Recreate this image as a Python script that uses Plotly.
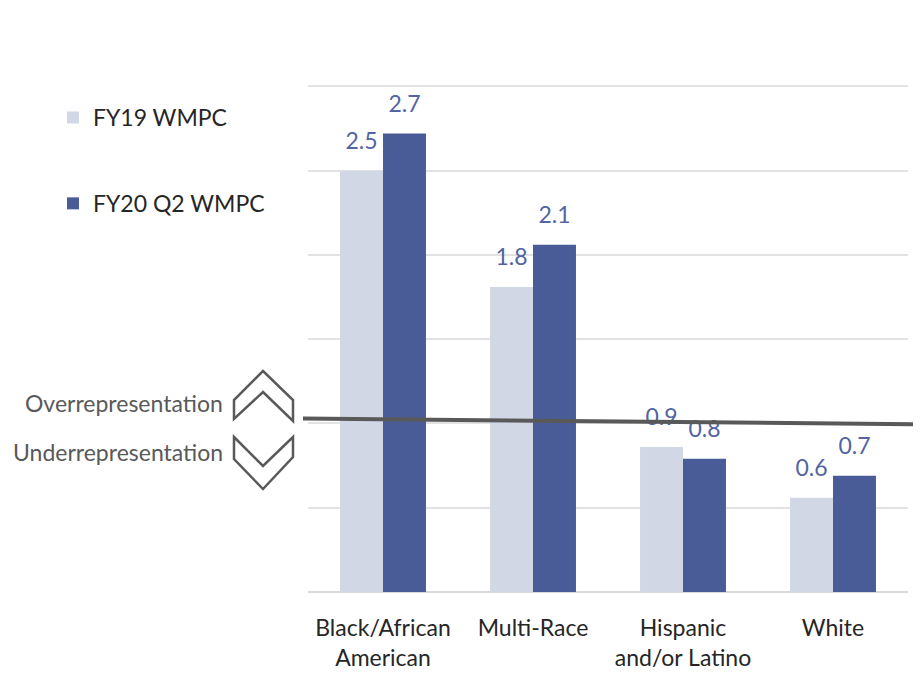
import plotly.graph_objects as go

categories = ["Black/African<br>American", "Multi-Race", "Hispanic<br>and/or Latino", "White"]
fy19_values = [2.50, 1.81, 0.86, 0.56]
fy20_values = [2.72, 2.06, 0.79, 0.69]
series_names = ["FY19 WMPC", "FY20 Q2 WMPC"]

W, H = 921, 673
OFF = 8  # page body margin in the browser
YMAX = 3.05
UNIT = 506 / 3  # px per unit on screen
# target plot area on screen: x 308..908, bottom at 592, value 3 at y=86
L = 308 - OFF
R = W - (908 - OFF)
B = H - (592 - OFF)
T = round(592 - YMAX * UNIT) - OFF
PW, PH = W - L - R, H - T - B

def px(x):
    return (x - OFF - L) / PW

def py(y):
    return (H - B - (y - OFF)) / PH

def path(points):
    return "M " + " L ".join(f"{px(x):.5f},{py(y):.5f}" for x, y in points) + " Z"

FONT = "Lato"
FS = 23
label_color = "#5264A2"
text_color = "#262626"
gray = "#595959"
colors = ["#D1D7E5", "#4A5C98"]

fig = go.Figure()
for name, vals, col, grp in [(series_names[0], fy19_values, colors[0], "a"),
                             (series_names[1], fy20_values, colors[1], "b")]:
    fig.add_trace(go.Bar(
        x=categories, y=vals, name=name, legendgroup=grp, offsetgroup=grp,
        marker=dict(color=col, line=dict(width=0)),
    ))
for name, vals, grp in [(series_names[0], fy19_values, "a"), (series_names[1], fy20_values, "b")]:
    fig.add_trace(go.Scatter(
        x=categories, y=vals, name=name, legendgroup=grp, offsetgroup=grp, showlegend=False,
        mode="markers+text", marker=dict(size=24, opacity=0),
        texttemplate="%{y:.1f}", textposition="top center",
        textfont=dict(size=FS, color=label_color, family=FONT), cliponaxis=False,
        hoverinfo="skip",
    ))

shapes = [
    dict(type="line", xref="paper", yref="y", x0=px(303), x1=px(918), y0=1.03, y1=0.995,
         line=dict(color=gray, width=4), layer="above"),
    dict(type="path", xref="paper", yref="paper",
         path=path([(263, 371), (293, 400), (293, 421), (263, 392), (234, 419), (234, 400)]),
         line=dict(color=gray, width=2.5), fillcolor="rgba(0,0,0,0)"),
    dict(type="path", xref="paper", yref="paper",
         path=path([(234, 437), (263, 466), (293, 437), (293, 457), (263, 489), (234, 459)]),
         line=dict(color=gray, width=2.5), fillcolor="rgba(0,0,0,0)"),
]

annotations = [
    dict(text="Overrepresentation", xref="paper", yref="paper", x=px(225), y=py(403),
         xanchor="right", yanchor="middle", showarrow=False,
         font=dict(size=FS, color=gray, family=FONT)),
    dict(text="Underrepresentation", xref="paper", yref="paper", x=px(225), y=py(452),
         xanchor="right", yanchor="middle", showarrow=False,
         font=dict(size=FS, color=gray, family=FONT)),
]

fig.update_layout(
    width=W, height=H,
    margin=dict(l=L, r=R, t=T, b=B, autoexpand=False),
    paper_bgcolor="white", plot_bgcolor="white",
    barmode="group", bargap=0.427, bargroupgap=0,
    scattermode="group", scattergap=0.427,
    font=dict(family=FONT, size=FS, color=text_color),
    showlegend=True,
    legend=dict(x=px(53), y=py(96), xanchor="left", yanchor="top",
                traceorder="grouped", tracegroupgap=53,
                font=dict(size=FS, color=text_color, family=FONT),
                bgcolor="rgba(0,0,0,0)"),
    xaxis=dict(showgrid=False, showline=False, ticks="", ticklabelstandoff=20,
               tickfont=dict(size=FS, color=text_color, family=FONT)),
    yaxis=dict(range=[0, YMAX], tick0=0, dtick=0.5, showgrid=True, gridcolor="#E2E2E2", gridwidth=1.5,
               showticklabels=False, zeroline=True, zerolinecolor="#D9D9D9", zerolinewidth=1.5,
               showline=False, ticks=""),
    shapes=shapes, annotations=annotations,
)

fig.write_html("out.html")
